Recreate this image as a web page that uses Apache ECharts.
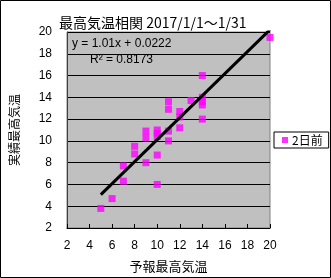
<!DOCTYPE html>
<html>
<head>
<meta charset="utf-8">
<script src="https://cdn.jsdelivr.net/npm/echarts@6/dist/echarts.min.js"></script>
<style>
html,body{margin:0;padding:0;background:#fff;}
#c{width:331px;height:278px;}
</style>
</head>
<body>
<div id="c"></div>
<script>
const titleText = '最高気温相関 2017/1/1～1/31';
const xName = '予報最高気温';
const yName = '実績最高気温';
const seriesName = '2日前';
const forecast = [5, 6, 7, 7, 8, 8, 9, 9, 9, 10, 10, 10, 10, 10, 11, 11, 11, 11, 12, 12, 12, 13, 14, 14, 14, 14, 14, 20];
const actual   = [3.8, 4.7, 7.7, 6.3, 9.5, 8.8, 10.9, 10.3, 8.0, 11.0, 10.7, 10.4, 8.7, 6.0, 13.6, 12.9, 10.9, 10.0, 12.7, 12.2, 11.2, 13.7, 16.0, 14.0, 13.6, 13.3, 12.0, 19.5];
const trendX = [5, 20];
const trendY = [5.07, 20.22];
const eqText = 'y = 1.01x + 0.0222';
const r2Text = 'R² = 0.8173';

const pts = forecast.map((x, i) => [x, actual[i]]);
const trend = trendX.map((x, i) => [x, trendY[i]]);
const FONT = '"Noto Sans CJK JP", sans-serif';
const NUMFONT = '"Liberation Sans", Arial, sans-serif';

const chart = echarts.init(document.getElementById('c'));
chart.setOption({
  backgroundColor: '#ffffff',
  animation: false,
  title: {
    text: titleText, left: 54, top: 11,
    textStyle: {fontSize: 14, fontWeight: 'normal', color: '#000', fontFamily: FONT}
  },
  legend: {
    data: [seriesName], left: 274, top: 132, orient: 'vertical',
    backgroundColor: '#fff', borderColor: '#000', borderWidth: 1, borderRadius: 0,
    padding: [2, 6, 2, 8], itemWidth: 6, itemHeight: 6, itemGap: 0, icon: 'rect',
    textStyle: {fontSize: 12, color: '#000', fontFamily: FONT, padding: [0, 0, 0, -1]}
  },
  grid: {left: 63, top: 32, width: 207, height: 198, show: true,
    backgroundColor: '#c0c0c0', borderColor: '#808080', borderWidth: 1},
  xAxis: {
    type: 'value', min: 2, max: 20, interval: 2,
    name: xName, nameLocation: 'middle', nameGap: 32,
    nameTextStyle: {fontSize: 13, color: '#000', fontFamily: FONT},
    axisLine: {show: true, lineStyle: {color: '#000', width: 1}},
    axisTick: {show: true, inside: true, length: 4, lineStyle: {color: '#000'}},
    axisLabel: {fontSize: 12, color: '#000', margin: 12, fontFamily: NUMFONT},
    splitLine: {show: false}
  },
  yAxis: {
    type: 'value', min: 2, max: 20, interval: 2,
    name: yName, nameLocation: 'middle', nameGap: 47,
    nameTextStyle: {fontSize: 12, color: '#000', fontFamily: FONT},
    axisLine: {show: true, lineStyle: {color: '#404040', width: 1}},
    axisTick: {show: false},
    axisLabel: {fontSize: 12, color: '#000', margin: 15, fontFamily: NUMFONT},
    splitLine: {show: true, lineStyle: {color: '#000', width: 1}}
  },
  graphic: [
    {type: 'rect', shape: {x: 0.5, y: 0.5, width: 330, height: 277}, style: {fill: 'none', stroke: '#000', lineWidth: 1}, z: 100},
    {type: 'text', left: 72, top: 38, style: {text: eqText, fontSize: 12, fill: '#000', fontFamily: NUMFONT}, z: 100},
    {type: 'text', left: 90, top: 54, style: {text: r2Text, fontSize: 12, fill: '#000', fontFamily: NUMFONT}, z: 100}
  ],
  series: [
    {name: seriesName, type: 'scatter', data: pts, symbol: 'rect', symbolSize: 7,
     itemStyle: {color: '#ff00ff'}, clip: false, z: 2},
    {name: 'trend', type: 'line', data: trend, symbol: 'none', clip: true,
     lineStyle: {color: '#000', width: 3}, z: 3, silent: true}
  ]
});
</script>
</body>
</html>
